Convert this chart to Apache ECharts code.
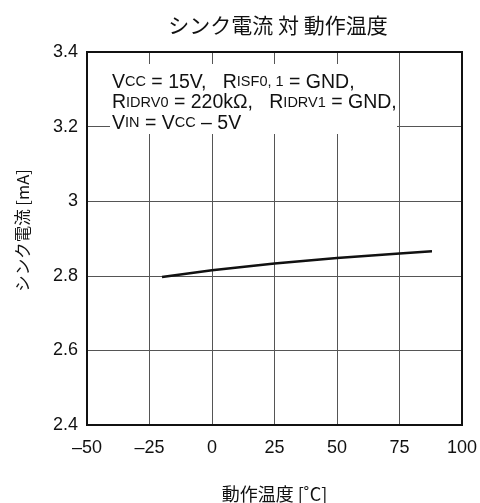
<!DOCTYPE html>
<html><head><meta charset="utf-8">
<script src="https://cdn.jsdelivr.net/npm/echarts@6/dist/echarts.min.js"></script>
<style>html,body{margin:0;padding:0;background:#fff}#c{width:480px;height:503px}</style>
</head><body><div id="c"></div>
<script>
const temps = [-20, 0, 25, 50, 75, 88];
const sinkCurrent = [2.797, 2.815, 2.833, 2.848, 2.860, 2.866];
const xTicks = [-50, -25, 0, 25, 50, 75, 100];
const yTicks = [2.4, 2.6, 2.8, 3.0, 3.2, 3.4];
const titleText = 'シンク電流 対 動作温度';
const xName = '動作温度 [˚C]';
const yName = 'シンク電流 [mA]';

const latin = '"Liberation Sans", Arial, sans-serif';
const jp = '"Noto Sans CJK JP", "Liberation Sans", sans-serif';
const chart = echarts.init(document.getElementById('c'));
chart.setOption({
  animation: false,
  title: {text: titleText, left: 273, textAlign: 'center', top: 10,
    textStyle: {fontFamily: jp, fontSize: 21, fontWeight: 'normal', color: '#111'}},
  grid: {left: 87, right: 18, top: 52, bottom: 78, show: false, containLabel: false, outerBoundsMode: 'none'},
  xAxis: {type: 'value', min: -50, max: 100, interval: 25,
    name: xName, nameLocation: 'middle', nameGap: 60,
    nameTextStyle: {fontFamily: jp, fontSize: 18, color: '#111'},
    axisLine: {onZero: false, lineStyle: {color: '#111', width: 2}},
    axisTick: {show: false},
    axisLabel: {fontFamily: latin, fontSize: 18, color: '#111', margin: 14,
      formatter: v => (v < 0 ? '\u2013' + Math.abs(v) : String(v))},
    splitLine: {show: true, lineStyle: {color: '#555', width: 1}}},
  yAxis: {type: 'value', min: 2.4, max: 3.4, interval: 0.2,
    name: yName, nameLocation: 'middle', nameGap: 56, nameRotate: 90,
    nameTextStyle: {fontFamily: jp, fontSize: 16.5, color: '#111', padding: [0, 0, 0, 16]},
    axisLine: {onZero: false, lineStyle: {color: '#111', width: 2}},
    axisTick: {show: false},
    axisLabel: {fontFamily: latin, fontSize: 18, color: '#111', margin: 9,
      formatter: v => { const r = Math.round(v * 10) / 10; return r === 3 ? '3' : r.toFixed(1); }},
    splitLine: {show: true, lineStyle: {color: '#555', width: 1}}},
  graphic: [
    {type: 'rect', shape: {x: 87, y: 52, width: 375, height: 373}, style: {fill: 'none', stroke: '#111', lineWidth: 2}, z: 10},
    {type: 'rect', shape: {x: 110, y: 64, width: 287, height: 70}, style: {fill: '#fff'}, z: 15},
    {type: 'text', left: 112, top: 72, z: 20,
      style: {
        text: 'V{s|CC} = 15V,   R{s|ISF0, 1} = GND,\nR{s|IDRV0} = 220kΩ,   R{s|IDRV1} = GND,\nV{s|IN} = V{s|CC} – 5V',
        fontFamily: latin, fontSize: 19.5, lineHeight: 20.5, fill: '#111',
        rich: {s: {fontFamily: latin, fontSize: 14.5, fill: '#111', lineHeight: 20.5}}
      }}
  ],
  series: [{type: 'line', data: temps.map((t, i) => [t, sinkCurrent[i]]),
    showSymbol: false, smooth: false, lineStyle: {color: '#111', width: 2.5}, z: 5}]
});
</script></body></html>
